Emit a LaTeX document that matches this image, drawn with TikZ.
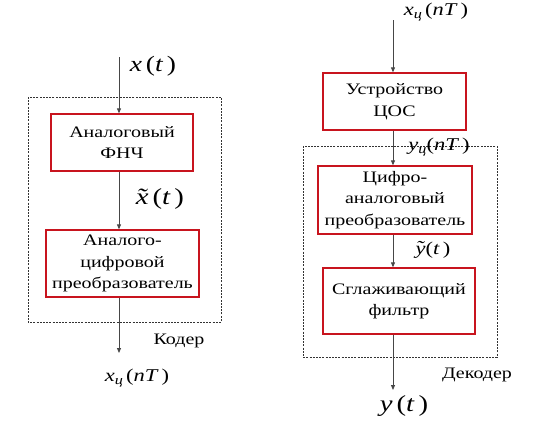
\documentclass[tikz,border=0pt]{standalone}
\usepackage{fontspec}
\setmainfont[FakeStretch=1.25]{Liberation Serif}
\usetikzlibrary{arrows.meta}
\definecolor{boxred}{RGB}{200,20,30}
\definecolor{arrgray}{RGB}{70,70,70}
\newcommand{\cyrsub}{\raisebox{-0.35ex}{\fontsize{13}{13}\selectfont\textit{ц}}}
\newcommand{\tld}[1]{\leavevmode\hbox{\ooalign{\textit{#1}\cr\hidewidth\raisebox{0.05ex}{\textit{\char"02DC}}\hidewidth\cr}}}
\tikzset{
  blk/.style={draw=boxred, line width=1.3pt, fill=white, align=center, inner sep=0pt,
    font=\fontsize{16}{21.5}\selectfont},
  grp/.style={draw=black!80, line width=0.5pt, dash pattern=on 2pt off 1.2pt},
  arr/.style={draw=arrgray, line width=0.8pt, -{Triangle[length=5pt,width=4pt]}},
  lbl/.style={font=\fontsize{16}{18}\selectfont, inner sep=0pt},
  mlbl/.style={inner sep=0pt}
}
\begin{document}
\begin{tikzpicture}[x=1pt,y=-1pt]
\useasboundingbox (0,0) rectangle (539,423);
% left: encoder
\draw[grp] (28,97) rectangle (221,322);
\node[blk, minimum width=142pt, minimum height=57pt] (lpf) at (122,142.5) {Аналоговый\\ФНЧ};
\node[blk, minimum width=153pt, minimum height=67pt] (adc) at (122.5,263.5) {Аналого-\\цифровой\\преобразователь};
\coordinate (lin) at (119,57);
\coordinate (lout) at (119,353);
\node[mlbl, font=\fontsize{22}{24}\selectfont] (xt) at (153,66) {\textit{x}\,(\textit{t}\,)};
\node[mlbl, font=\fontsize{23}{24}\selectfont] (xtt) at (160,199) {\tld{x}\,(\textit{t}\,)};
\node[lbl] (coder) at (179,341) {Кодер};
\node[mlbl, font=\fontsize{18}{20}\selectfont] (xout) at (137,378) {\textit{x}\cyrsub\,(\textit{nT}\,)};
\draw[arr] (lin) -- (lin |- lpf.north);
\draw[arr] (lpf.south -| lin) -- (lin |- adc.north);
\draw[arr] (adc.south -| lin) -- (lout);
% right: decoder
\draw[grp] (303,146) rectangle (497,357);
\node[blk, minimum width=143pt, minimum height=57pt] (dsp) at (394.5,101.5) {Устройство\\ЦОС};
\node[blk, minimum width=154pt, minimum height=68pt] (dac) at (395,200) {Цифро-\\аналоговый\\преобразователь};
\node[blk, minimum width=152pt, minimum height=66pt] (flt) at (399,301) {Сглаживающий\\фильтр};
\coordinate (rin) at (393,20);
\coordinate (rout) at (393,390);
\node[mlbl, font=\fontsize{18}{20}\selectfont] (xin) at (436,12) {\textit{x}\cyrsub\,(\textit{nT}\,)};
\node[mlbl, font=\fontsize{18}{20}\selectfont] (yc) at (439,147) {\textit{y}\cyrsub(\textit{nT}\,)};
\node[mlbl, font=\fontsize{18}{20}\selectfont] (yt) at (433,250) {\tld{y}(\textit{t}\,)};
\node[lbl] (dec) at (477,375) {Декодер};
\node[mlbl, font=\fontsize{23}{24}\selectfont] (yout) at (404,406) {\textit{y}\,(\textit{t}\,)};
\draw[arr] (rin) -- (rin |- dsp.north);
\draw[arr] (dsp.south -| rin) -- (rin |- dac.north);
\draw[arr] (dac.south -| rin) -- (rin |- flt.north);
\draw[arr] (flt.south -| rin) -- (rout);
\end{tikzpicture}
\end{document}
